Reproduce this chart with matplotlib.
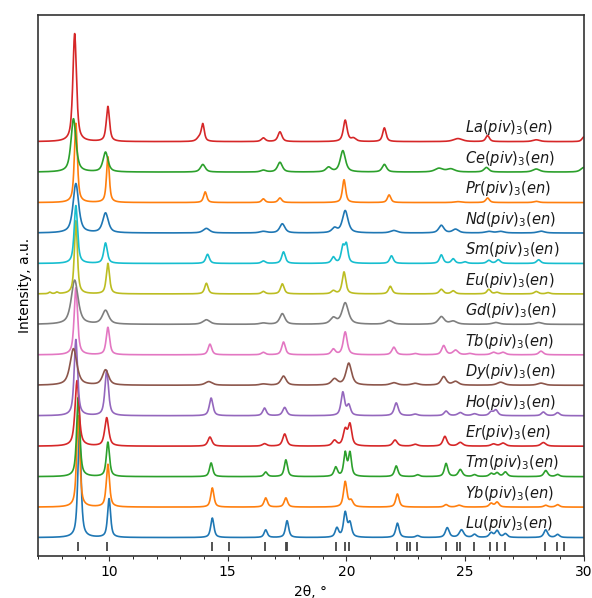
import matplotlib
matplotlib.use("Agg")
import matplotlib.pyplot as plt
from matplotlib.ticker import MultipleLocator
import numpy as np

# compounds, bottom to top (stack order)
metals = ["Lu", "Yb", "Tm", "Er", "Ho", "Dy", "Tb", "Gd", "Eu", "Sm", "Nd", "Pr", "Ce", "La"]

# peak tables: (2theta, height in stack units, fwhm)
peaks_Lu = [(8.75, 3.5, 0.16), (10.0, 1.27, 0.15), (14.35, 0.64, 0.16), (16.6, 0.25, 0.16),
            (17.5, 0.55, 0.16), (19.6, 0.3, 0.17), (19.95, 0.8, 0.17), (20.15, 0.45, 0.17),
            (22.15, 0.47, 0.17), (23.0, 0.06, 0.19), (24.25, 0.32, 0.19), (24.85, 0.25, 0.22),
            (25.4, 0.1, 0.19), (26.1, 0.15, 0.19), (26.35, 0.22, 0.19), (26.7, 0.12, 0.19),
            (28.4, 0.25, 0.19), (28.9, 0.1, 0.19)]
peaks_Yb = [(8.7, 3.0, 0.16), (9.95, 1.4, 0.16), (14.35, 0.63, 0.16), (16.6, 0.3, 0.17),
            (17.45, 0.3, 0.17), (19.95, 0.83, 0.17), (20.2, 0.2, 0.19), (22.15, 0.43, 0.17),
            (24.2, 0.08, 0.19), (24.75, 0.06, 0.25), (26.1, 0.12, 0.19), (26.35, 0.16, 0.19),
            (28.4, 0.06, 0.19), (28.9, 0.08, 0.19)]
peaks_Tm = [(8.7, 2.6, 0.16), (9.95, 1.13, 0.16), (14.3, 0.45, 0.16), (16.6, 0.15, 0.17),
            (17.45, 0.55, 0.16), (19.55, 0.3, 0.17), (19.95, 0.76, 0.15), (20.15, 0.76, 0.15),
            (22.1, 0.35, 0.17), (23.0, 0.06, 0.19), (24.2, 0.43, 0.17), (24.8, 0.23, 0.2),
            (25.4, 0.06, 0.19), (26.1, 0.1, 0.19), (26.35, 0.12, 0.19), (26.7, 0.15, 0.19),
            (28.4, 0.2, 0.19), (28.9, 0.07, 0.19)]
peaks_Er = [(8.65, 2.15, 0.2), (9.9, 0.93, 0.2), (14.25, 0.3, 0.2), (16.55, 0.08, 0.22),
            (17.4, 0.4, 0.2), (19.5, 0.18, 0.22), (19.95, 0.52, 0.2), (20.15, 0.68, 0.18),
            (22.05, 0.2, 0.22), (22.9, 0.06, 0.25), (24.15, 0.32, 0.2), (24.8, 0.12, 0.25),
            (26.2, 0.07, 0.25), (26.6, 0.1, 0.25), (28.3, 0.12, 0.25)]
peaks_Ho = [(8.6, 2.5, 0.17), (9.9, 1.48, 0.18), (14.3, 0.58, 0.18), (16.55, 0.25, 0.18),
            (17.4, 0.27, 0.2), (19.85, 0.76, 0.18), (20.1, 0.33, 0.18), (22.1, 0.42, 0.2),
            (22.9, 0.05, 0.25), (24.2, 0.15, 0.2), (24.8, 0.1, 0.25), (25.4, 0.06, 0.25),
            (26.1, 0.12, 0.2), (26.3, 0.18, 0.2), (28.3, 0.12, 0.2), (28.9, 0.1, 0.2)]
peaks_Dy = [(8.5, 1.2, 0.34), (9.85, 0.5, 0.3), (14.2, 0.12, 0.35), (16.5, 0.04, 0.35),
            (17.35, 0.3, 0.26), (19.5, 0.2, 0.3), (20.1, 0.72, 0.28), (22.0, 0.08, 0.35),
            (22.9, 0.06, 0.35), (24.1, 0.28, 0.26), (24.6, 0.12, 0.3), (26.5, 0.1, 0.35),
            (28.2, 0.07, 0.35)]
peaks_Tb = [(8.6, 2.2, 0.17), (9.95, 0.9, 0.17), (14.25, 0.35, 0.18), (16.5, 0.08, 0.2),
            (17.35, 0.42, 0.18), (19.45, 0.18, 0.2), (19.95, 0.75, 0.2), (22.0, 0.25, 0.2),
            (22.9, 0.04, 0.25), (24.1, 0.3, 0.2), (24.6, 0.15, 0.25), (25.2, 0.04, 0.25),
            (26.2, 0.08, 0.25), (26.6, 0.08, 0.25), (28.2, 0.12, 0.22)]
peaks_Gd = [(8.55, 1.45, 0.34), (9.85, 0.45, 0.32), (14.1, 0.15, 0.35), (16.5, 0.04, 0.35),
            (17.3, 0.35, 0.26), (19.45, 0.2, 0.3), (19.95, 0.7, 0.32), (21.8, 0.12, 0.35),
            (24.0, 0.25, 0.3), (24.5, 0.1, 0.35), (26.3, 0.06, 0.35), (28.1, 0.06, 0.35)]
peaks_Eu = [(7.5, 0.05, 0.12), (7.8, 0.05, 0.12), (8.6, 2.4, 0.15), (9.95, 1.0, 0.16),
            (14.1, 0.35, 0.17), (16.5, 0.08, 0.18), (17.3, 0.33, 0.18), (19.45, 0.1, 0.2),
            (19.9, 0.72, 0.18), (21.85, 0.25, 0.18), (24.0, 0.15, 0.2), (24.5, 0.1, 0.2),
            (26.0, 0.15, 0.18), (26.35, 0.05, 0.2), (28.0, 0.08, 0.2), (28.5, 0.04, 0.2)]
peaks_Sm = [(8.6, 1.9, 0.17), (9.85, 0.67, 0.18), (14.15, 0.3, 0.18), (16.5, 0.08, 0.2),
            (17.35, 0.38, 0.18), (19.45, 0.2, 0.18), (19.85, 0.52, 0.17), (20.0, 0.58, 0.16),
            (21.9, 0.25, 0.18), (24.0, 0.28, 0.18), (24.5, 0.15, 0.18), (25.0, 0.05, 0.2),
            (26.0, 0.1, 0.2), (26.4, 0.12, 0.2), (28.1, 0.12, 0.2)]
peaks_Nd = [(8.6, 1.62, 0.28), (9.85, 0.65, 0.28), (14.1, 0.15, 0.32), (16.5, 0.05, 0.35),
            (17.3, 0.3, 0.26), (19.5, 0.15, 0.26), (19.95, 0.73, 0.28), (22.0, 0.08, 0.35),
            (24.0, 0.25, 0.26), (24.6, 0.12, 0.3), (26.0, 0.05, 0.35), (26.5, 0.05, 0.35),
            (28.2, 0.06, 0.35)]
peaks_Pr = [(8.6, 2.6, 0.15), (9.95, 1.5, 0.14), (14.05, 0.35, 0.16), (16.5, 0.12, 0.17),
            (17.2, 0.15, 0.18), (19.9, 0.75, 0.16), (21.8, 0.25, 0.17), (24.7, 0.03, 0.35),
            (25.95, 0.15, 0.18), (28.0, 0.04, 0.25)]
peaks_Ce = [(8.5, 1.75, 0.25), (9.85, 0.65, 0.25), (13.95, 0.25, 0.24), (16.5, 0.06, 0.26),
            (17.2, 0.32, 0.24), (19.25, 0.15, 0.26), (19.85, 0.7, 0.26), (21.6, 0.25, 0.22),
            (23.9, 0.12, 0.4), (24.4, 0.1, 0.4), (25.9, 0.15, 0.24), (28.0, 0.1, 0.35),
            (30.0, 0.15, 0.3)]
peaks_La = [(8.55, 3.55, 0.18), (9.95, 1.15, 0.16), (13.8, 0.12, 0.24), (13.95, 0.55, 0.15),
            (16.5, 0.12, 0.2), (17.2, 0.32, 0.2), (19.95, 0.7, 0.19), (20.3, 0.1, 0.24),
            (21.6, 0.45, 0.17), (24.7, 0.1, 0.45), (25.95, 0.2, 0.18), (28.0, 0.06, 0.35),
            (30.0, 0.15, 0.18)]

# reference reflections (bottom marks)
ref_pos = [8.7, 9.93, 14.33, 15.07, 16.58, 17.45, 17.5, 19.58, 19.95, 20.12,
           22.13, 22.55, 22.69, 22.99, 24.2, 24.66, 24.8, 25.37, 26.07, 26.35,
           26.7, 28.37, 28.88, 29.16]

peak_tables = [peaks_Lu, peaks_Yb, peaks_Tm, peaks_Er, peaks_Ho, peaks_Dy, peaks_Tb,
               peaks_Gd, peaks_Eu, peaks_Sm, peaks_Nd, peaks_Pr, peaks_Ce, peaks_La]


def profile(x, peaks, eta=0.7):
    """Pseudo-Voigt sum for a peak table."""
    y = np.zeros_like(x)
    for pos, h, w in peaks:
        d = (x - pos) / (w / 2)
        lor = 1 / (1 + d ** 2)
        gau = np.exp(-np.log(2) * d ** 2)
        y += h * (eta * lor + (1 - eta) * gau)
    return y


colors = plt.rcParams['axes.prop_cycle'].by_key()['color']
x = np.linspace(7, 30, 2400)

fig = plt.figure(figsize=(5.92, 5.98), dpi=100)
ax = fig.add_axes([0.064, 0.071, 0.922, 0.904])

for i, (m, pk) in enumerate(zip(metals, peak_tables)):
    ax.plot(x, profile(x, pk) + i, color=colors[i % 10], lw=1.2)
    ax.text(25.0, i + 0.45, m + r"$(piv)_3(en)$", fontsize=10.5, style='italic',
            ha='left', va='center', color='#1a1a1a')

ax.vlines(ref_pos, -0.43, -0.13, color='#444444', lw=1.3)

ax.set_xlim(7, 30)
ax.set_ylim(-0.59, 17.16)
ax.set_yticks([])
ax.xaxis.set_major_locator(MultipleLocator(5))
ax.xaxis.set_minor_locator(MultipleLocator(1))
ax.tick_params(axis='x', labelsize=10, color='#333333')
for s in ax.spines.values():
    s.set_color('#333333')
    s.set_linewidth(1.2)
ax.set_xlabel("2θ, °", fontsize=10)
ax.set_ylabel("Intensity, a.u.", fontsize=10)

fig.savefig("out.png", dpi=100)
